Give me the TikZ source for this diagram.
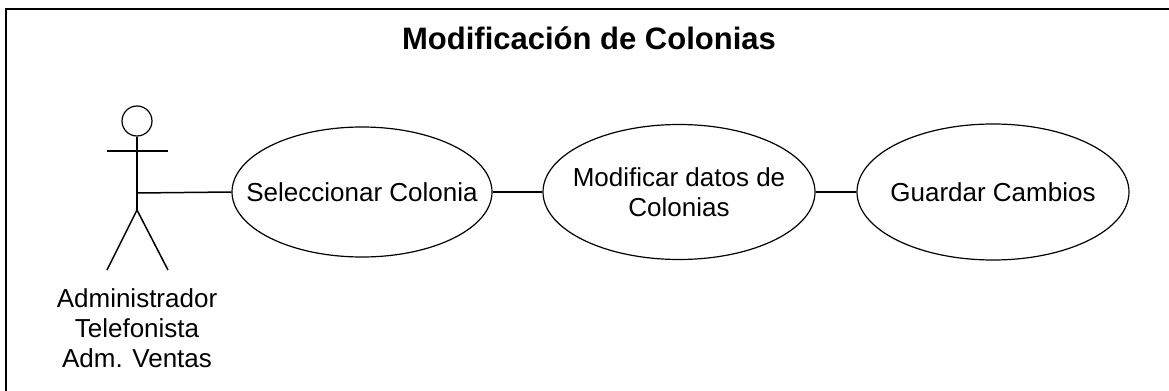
\documentclass[tikz,border=0pt]{standalone}
\usepackage{fontspec}
\setmainfont{Liberation Sans}
\usetikzlibrary{shapes.geometric,positioning}
\tikzset{
  uc/.style={draw, ellipse, inner sep=0pt, line width=0.6pt},
  uctext/.style={align=center, font=\fontsize{13}{15}\selectfont},
  lnk/.style={line width=0.75pt},
}

\begin{document}
\begin{tikzpicture}[x=0.5pt, y=-0.5pt]
  \useasboundingbox (0,0) rectangle (1169,391);
  \draw[line width=1.4pt] (6,391) -- (6,9) -- (1169,9);
  \node[font=\bfseries\fontsize{15.5}{18}\selectfont] (title) at (589,38) {Modificación de Colonias};
  % actor
  \node[draw, circle, minimum size=15pt, inner sep=0pt, line width=0.6pt] (head) at (137,121) {};
  \coordinate (hip) at (137,210);
  \coordinate (waist) at (137,193);
  \coordinate (larm) at (107,151);
  \coordinate (rarm) at (168,151);
  \coordinate (lfoot) at (107,270);
  \coordinate (rfoot) at (168,270);
  \draw[lnk] (head.south) -- (hip);
  \draw[line width=0.6pt] (larm) -- (rarm);
  \draw[lnk] (lfoot) -- (hip) -- (rfoot);
  \node[uctext] (actor) at (137,328) {Administrador\\Telefonista\\Adm. Ventas};
  % use cases
  \node[uc, minimum width=130pt, minimum height=65pt, label={[uctext]center:Seleccionar Colonia}] (sel) at (362,192) {};
  \node[uc, minimum width=136pt, minimum height=67.5pt, label={[uctext]center:{Modificar datos de\\Colonias}}] (mod) at (679,192) {};
  \node[uc, minimum width=136pt, minimum height=68pt, label={[uctext]center:Guardar Cambios}] (gua) at (993,192) {};
  \draw[lnk] (waist) -- (sel.west);
  \draw[lnk] (sel) -- (mod);
  \draw[lnk] (mod) -- (gua);
\end{tikzpicture}
\end{document}
